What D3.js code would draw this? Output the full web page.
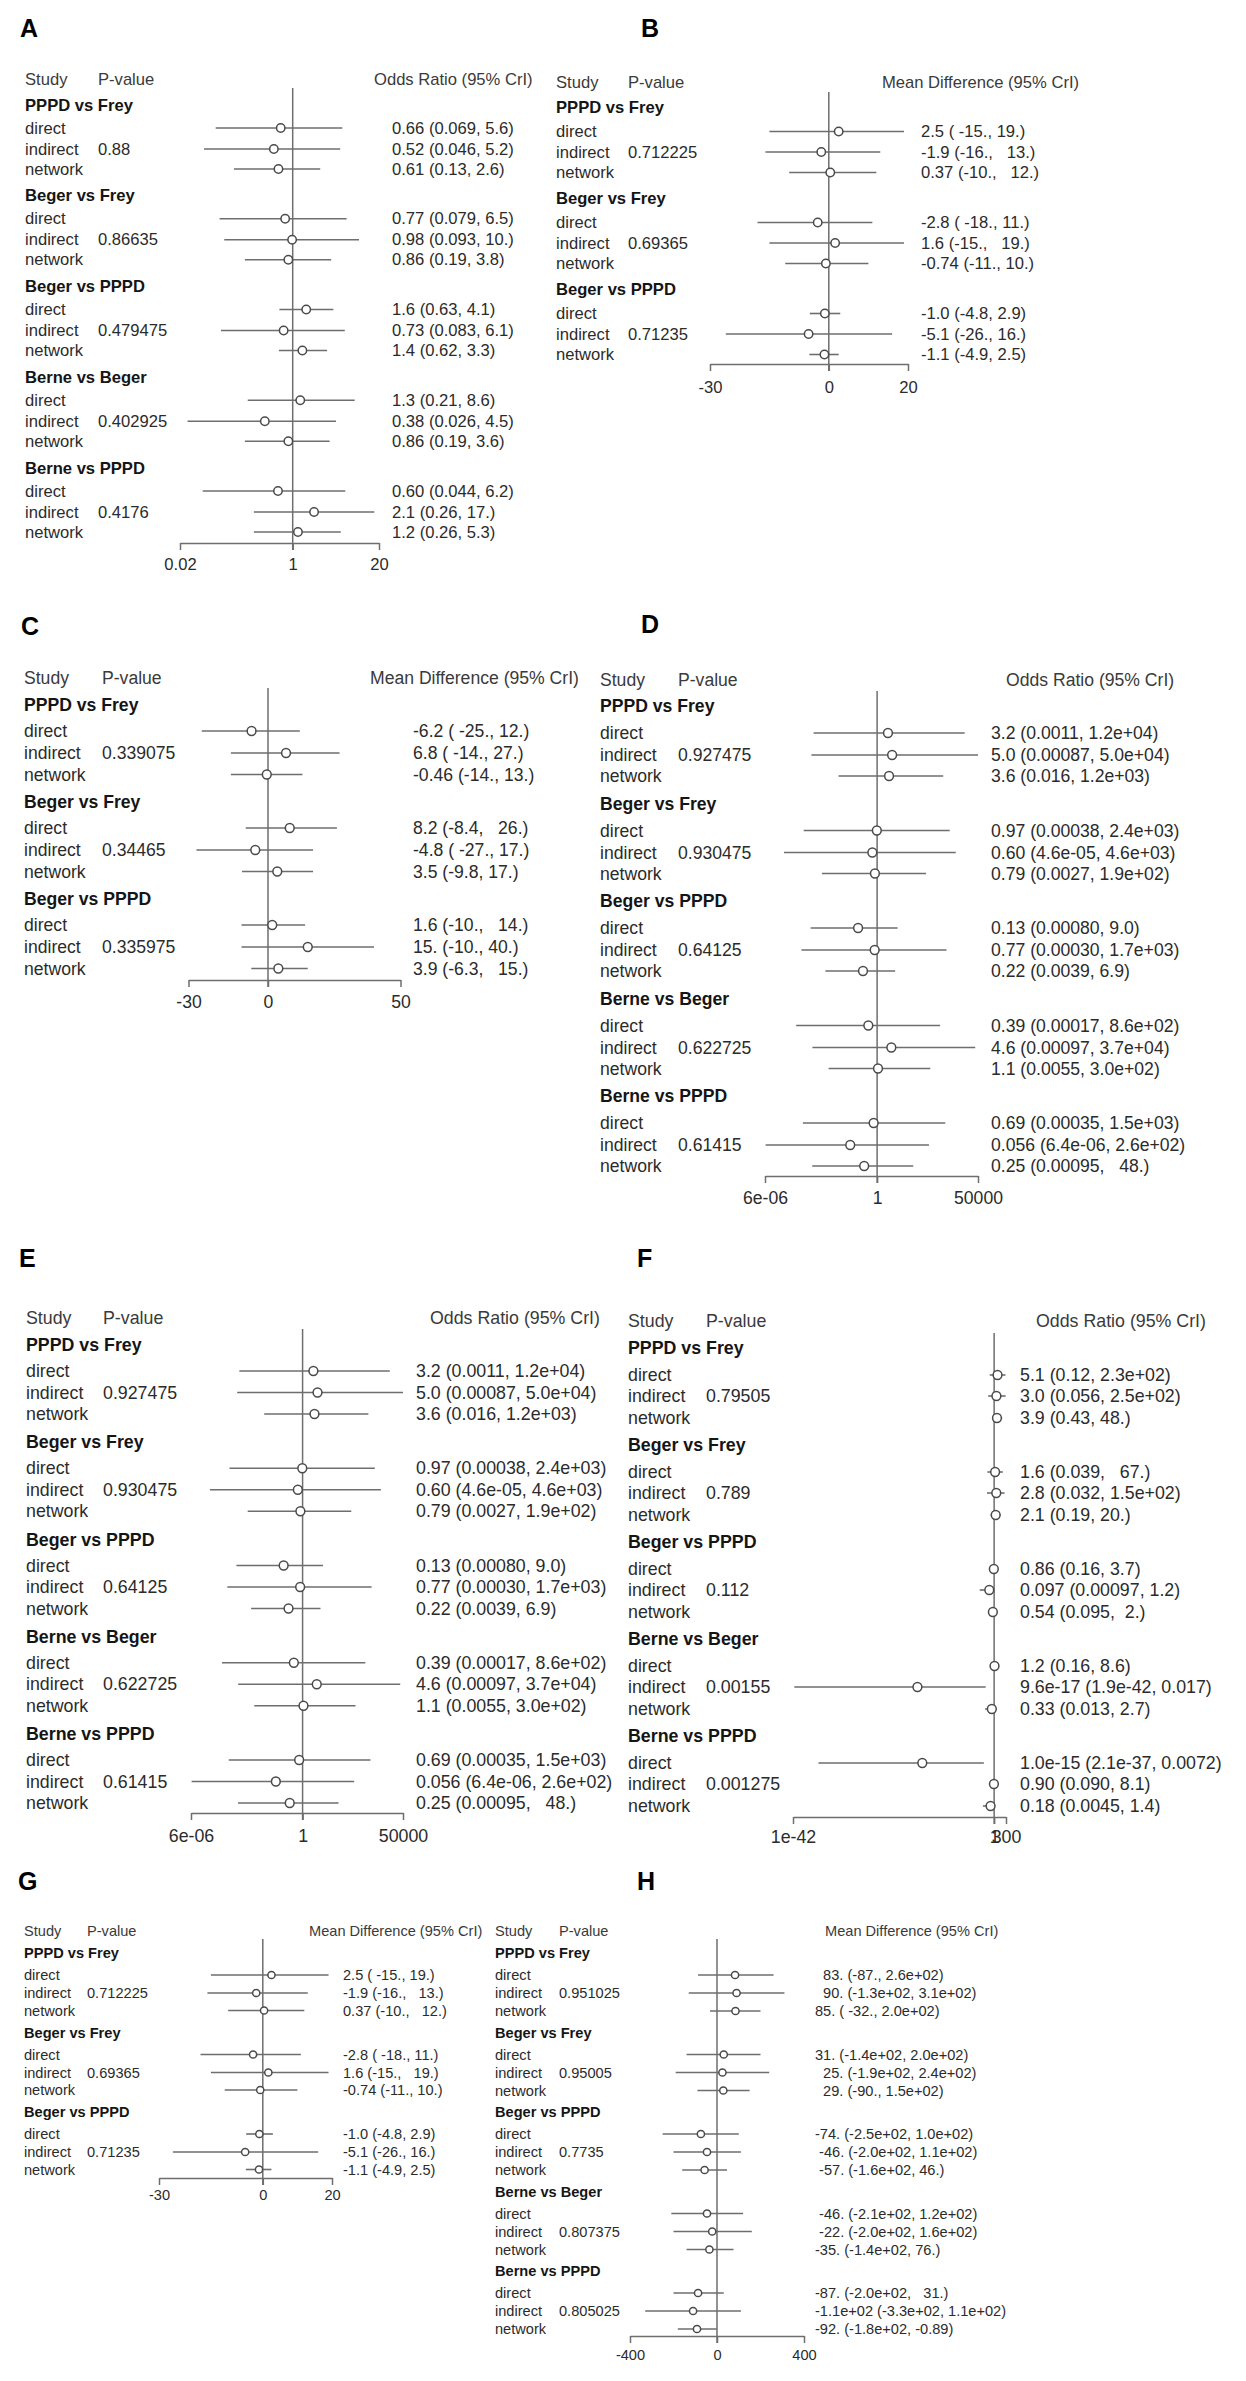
<!DOCTYPE html>
<html><head><meta charset="utf-8">
<script src="https://cdn.jsdelivr.net/npm/d3@7"></script>
<style>
html,body{margin:0;padding:0;background:#fff;}
svg text{font-family:"Liberation Sans",Arial,sans-serif;white-space:pre;}
</style></head><body>
<svg id="chart" width="1246" height="2381" xml:space="preserve"></svg>
<script>
// ---------- shared categories ----------
const groups5 = ["PPPD vs Frey", "Beger vs Frey", "Beger vs PPPD", "Berne vs Beger", "Berne vs PPPD"];
const groups3 = ["PPPD vs Frey", "Beger vs Frey", "Beger vs PPPD"];
const rowKinds = ["direct", "indirect", "network"];

// ---------- Panel A (Odds Ratio) ----------
const A_est = [0.66, 0.52, 0.61, 0.77, 0.98, 0.86, 1.6, 0.73, 1.4, 1.3, 0.38, 0.86, 0.60, 2.1, 1.2];
const A_lo  = [0.069, 0.046, 0.13, 0.079, 0.093, 0.19, 0.63, 0.083, 0.62, 0.21, 0.026, 0.19, 0.044, 0.26, 0.26];
const A_hi  = [5.6, 5.2, 2.6, 6.5, 10, 3.8, 4.1, 6.1, 3.3, 8.6, 4.5, 3.6, 6.2, 17, 5.3];
const A_txt = ["0.66 (0.069, 5.6)", "0.52 (0.046, 5.2)", "0.61 (0.13, 2.6)",
  "0.77 (0.079, 6.5)", "0.98 (0.093, 10.)", "0.86 (0.19, 3.8)",
  "1.6 (0.63, 4.1)", "0.73 (0.083, 6.1)", "1.4 (0.62, 3.3)",
  "1.3 (0.21, 8.6)", "0.38 (0.026, 4.5)", "0.86 (0.19, 3.6)",
  "0.60 (0.044, 6.2)", "2.1 (0.26, 17.)", "1.2 (0.26, 5.3)"];
const A_p = ["0.88", "0.86635", "0.479475", "0.402925", "0.4176"];
const A_ticks = [0.02, 1, 20];
const A_tickLabels = ["0.02", "1", "20"];

// ---------- Panel B (Mean Difference) ----------
const B_est = [2.5, -1.9, 0.37, -2.8, 1.6, -0.74, -1.0, -5.1, -1.1];
const B_lo  = [-15, -16, -10, -18, -15, -11, -4.8, -26, -4.9];
const B_hi  = [19, 13, 12, 11, 19, 10, 2.9, 16, 2.5];
const B_txt = ["2.5 ( -15., 19.)", "-1.9 (-16.,   13.)", "0.37 (-10.,   12.)",
  "-2.8 ( -18., 11.)", "1.6 (-15.,   19.)", "-0.74 (-11., 10.)",
  "-1.0 (-4.8, 2.9)", "-5.1 (-26., 16.)", "-1.1 (-4.9, 2.5)"];
const B_p = ["0.712225", "0.69365", "0.71235"];
const B_ticks = [-30, 0, 20];
const B_tickLabels = ["-30", "0", "20"];

// ---------- Panel C (Mean Difference) ----------
const C_est = [-6.2, 6.8, -0.46, 8.2, -4.8, 3.5, 1.6, 15, 3.9];
const C_lo  = [-25, -14, -14, -8.4, -27, -9.8, -10, -10, -6.3];
const C_hi  = [12, 27, 13, 26, 17, 17, 14, 40, 15];
const C_txt = ["-6.2 ( -25., 12.)", "6.8 ( -14., 27.)", "-0.46 (-14., 13.)",
  "8.2 (-8.4,   26.)", "-4.8 ( -27., 17.)", "3.5 (-9.8, 17.)",
  "1.6 (-10.,   14.)", "15. (-10., 40.)", "3.9 (-6.3,   15.)"];
const C_p = ["0.339075", "0.34465", "0.335975"];
const C_ticks = [-30, 0, 50];
const C_tickLabels = ["-30", "0", "50"];

// ---------- Panel D (Odds Ratio) ----------
const D_est = [3.2, 5.0, 3.6, 0.97, 0.60, 0.79, 0.13, 0.77, 0.22, 0.39, 4.6, 1.1, 0.69, 0.056, 0.25];
const D_lo  = [0.0011, 0.00087, 0.016, 0.00038, 4.6e-5, 0.0027, 0.0008, 0.0003, 0.0039, 0.00017, 0.00097, 0.0055, 0.00035, 6.4e-6, 0.00095];
const D_hi  = [1.2e4, 5.0e4, 1.2e3, 2.4e3, 4.6e3, 1.9e2, 9.0, 1.7e3, 6.9, 8.6e2, 3.7e4, 3.0e2, 1.5e3, 2.6e2, 48];
const D_txt = ["3.2 (0.0011, 1.2e+04)", "5.0 (0.00087, 5.0e+04)", "3.6 (0.016, 1.2e+03)",
  "0.97 (0.00038, 2.4e+03)", "0.60 (4.6e-05, 4.6e+03)", "0.79 (0.0027, 1.9e+02)",
  "0.13 (0.00080, 9.0)", "0.77 (0.00030, 1.7e+03)", "0.22 (0.0039, 6.9)",
  "0.39 (0.00017, 8.6e+02)", "4.6 (0.00097, 3.7e+04)", "1.1 (0.0055, 3.0e+02)",
  "0.69 (0.00035, 1.5e+03)", "0.056 (6.4e-06, 2.6e+02)", "0.25 (0.00095,   48.)"];
const D_p = ["0.927475", "0.930475", "0.64125", "0.622725", "0.61415"];
const D_ticks = [6e-6, 1, 50000];
const D_tickLabels = ["6e-06", "1", "50000"];

// ---------- Panel E (same estimates as D) ----------
const E_est = D_est.slice();
const E_lo = D_lo.slice();
const E_hi = D_hi.slice();
const E_txt = D_txt.slice();
const E_p = D_p.slice();
const E_ticks = [6e-6, 1, 50000];
const E_tickLabels = ["6e-06", "1", "50000"];

// ---------- Panel F (Odds Ratio) ----------
const F_est = [5.1, 3.0, 3.9, 1.6, 2.8, 2.1, 0.86, 0.097, 0.54, 1.2, 9.6e-17, 0.33, 1.0e-15, 0.90, 0.18];
const F_lo  = [0.12, 0.056, 0.43, 0.039, 0.032, 0.19, 0.16, 0.00097, 0.095, 0.16, 1.9e-42, 0.013, 2.1e-37, 0.090, 0.0045];
const F_hi  = [230, 250, 48, 67, 150, 20, 3.7, 1.2, 2, 8.6, 0.017, 2.7, 0.0072, 8.1, 1.4];
const F_txt = ["5.1 (0.12, 2.3e+02)", "3.0 (0.056, 2.5e+02)", "3.9 (0.43, 48.)",
  "1.6 (0.039,   67.)", "2.8 (0.032, 1.5e+02)", "2.1 (0.19, 20.)",
  "0.86 (0.16, 3.7)", "0.097 (0.00097, 1.2)", "0.54 (0.095,  2.)",
  "1.2 (0.16, 8.6)", "9.6e-17 (1.9e-42, 0.017)", "0.33 (0.013, 2.7)",
  "1.0e-15 (2.1e-37, 0.0072)", "0.90 (0.090, 8.1)", "0.18 (0.0045, 1.4)"];
const F_p = ["0.79505", "0.789", "0.112", "0.00155", "0.001275"];
const F_ticks = [1e-42, 1, 300];
const F_tickLabels = ["1e-42", "1", "300"];

// ---------- Panel G (same estimates as B) ----------
const G_est = B_est.slice();
const G_lo = B_lo.slice();
const G_hi = B_hi.slice();
const G_txt = B_txt.slice();
const G_p = B_p.slice();
const G_ticks = [-30, 0, 20];
const G_tickLabels = ["-30", "0", "20"];

// ---------- Panel H (Mean Difference) ----------
const H_est = [83, 90, 85, 31, 25, 29, -74, -46, -57, -46, -22, -35, -87, -110, -92];
const H_lo  = [-87, -130, -32, -140, -190, -90, -250, -200, -160, -210, -200, -140, -200, -330, -180];
const H_hi  = [260, 310, 200, 200, 240, 150, 100, 110, 46, 120, 160, 76, 31, 110, -0.89];
const H_txt = ["  83. (-87., 2.6e+02)", "  90. (-1.3e+02, 3.1e+02)", "85. ( -32., 2.0e+02)",
  "31. (-1.4e+02, 2.0e+02)", "  25. (-1.9e+02, 2.4e+02)", "  29. (-90., 1.5e+02)",
  "-74. (-2.5e+02, 1.0e+02)", " -46. (-2.0e+02, 1.1e+02)", " -57. (-1.6e+02, 46.)",
  " -46. (-2.1e+02, 1.2e+02)", " -22. (-2.0e+02, 1.6e+02)", "-35. (-1.4e+02, 76.)",
  "-87. (-2.0e+02,   31.)", "-1.1e+02 (-3.3e+02, 1.1e+02)", "-92. (-1.8e+02, -0.89)"];
const H_p = ["0.951025", "0.95005", "0.7735", "0.807375", "0.805025"];
const H_ticks = [-400, 0, 400];
const H_tickLabels = ["-400", "0", "400"];

// ---------- layout (positions / sizes only) ----------
const panels = [
  {letter:"A", log:true,  groups:groups5, est:A_est, lo:A_lo, hi:A_hi, txt:A_txt, p:A_p, ticks:A_ticks, tl:A_tickLabels, head:"Odds Ratio (95% CrI)",
   lx:20, ly:37, hy:79, gy0:105, pitch:90.75, off:[23,44,64], xs:25, xp:98, xh:374, xv:392, zt:88, ay:543, tly:564, range:[180,379], fs:16.6, r:4.2},
  {letter:"B", log:false, groups:groups3, est:B_est, lo:B_lo, hi:B_hi, txt:B_txt, p:B_p, ticks:B_ticks, tl:B_tickLabels, head:"Mean Difference (95% CrI)",
   lx:641, ly:37, hy:82, gy0:107, pitch:91, off:[24.5,45,65.5], xs:556, xp:628, xh:882, xv:921, zt:92, ay:364, tly:387, range:[710,908], fs:16.6, r:4.2},
  {letter:"C", log:false, groups:groups3, est:C_est, lo:C_lo, hi:C_hi, txt:C_txt, p:C_p, ticks:C_ticks, tl:C_tickLabels, head:"Mean Difference (95% CrI)",
   lx:21, ly:635, hy:678, gy0:705, pitch:97, off:[26,48,69.5], xs:24, xp:102, xh:370, xv:413, zt:688, ay:980, tly:1002, range:[188.5,400.5], fs:17.6, r:4.4},
  {letter:"D", log:true,  groups:groups5, est:D_est, lo:D_lo, hi:D_hi, txt:D_txt, p:D_p, ticks:D_ticks, tl:D_tickLabels, head:"Odds Ratio (95% CrI)",
   lx:641, ly:633, hy:680, gy0:706, pitch:97.5, off:[27,49,70], xs:600, xp:678, xh:1006, xv:991, zt:691, ay:1176, tly:1198, range:[765,978], fs:17.6, r:4.4},
  {letter:"E", log:true,  groups:groups5, est:E_est, lo:E_lo, hi:E_hi, txt:E_txt, p:E_p, ticks:E_ticks, tl:E_tickLabels, head:"Odds Ratio (95% CrI)",
   lx:19, ly:1267, hy:1318, gy0:1345, pitch:97.25, off:[26,47.5,69], xs:26, xp:103, xh:430, xv:416, zt:1329, ay:1813, tly:1836, range:[191,403], fs:17.8, r:4.4},
  {letter:"F", log:true,  groups:groups5, est:F_est, lo:F_lo, hi:F_hi, txt:F_txt, p:F_p, ticks:F_ticks, tl:F_tickLabels, head:"Odds Ratio (95% CrI)",
   lx:637, ly:1267, hy:1321, gy0:1348, pitch:97, off:[27,48,70], xs:628, xp:706, xh:1036, xv:1020, zt:1333, ay:1817, tly:1837, range:[793,1006], fs:17.8, r:4.4},
  {letter:"G", log:false, groups:groups3, est:G_est, lo:G_lo, hi:G_hi, txt:G_txt, p:G_p, ticks:G_ticks, tl:G_tickLabels, head:"Mean Difference (95% CrI)",
   lx:18, ly:1890, hy:1931, gy0:1953, pitch:79.5, off:[22,40,57.5], xs:24, xp:87, xh:309, xv:343, zt:1939, ay:2178, tly:2195, range:[159,332], fs:14.6, r:3.6},
  {letter:"H", log:false, groups:groups5, est:H_est, lo:H_lo, hi:H_hi, txt:H_txt, p:H_p, ticks:H_ticks, tl:H_tickLabels, head:"Mean Difference (95% CrI)",
   lx:637, ly:1890, hy:1931, gy0:1953, pitch:79.5, off:[22,40,58], xs:495, xp:559, xh:825, xv:815, zt:1939, ay:2336, tly:2355, range:[630,804], fs:14.6, r:3.6}
];

const svg = d3.select("#chart");
svg.append("rect").attr("width",1246).attr("height",2381).attr("fill","#fff");

const LINE = "#6e6e6e", PT = "#4a4a4a", TXT = "#2b2b2b", HEAD = "#3a3a3a", BOLD = "#151515";

function drawPanel(c) {
  const g = svg.append("g").attr("class","panel-"+c.letter);
  g.append("text").attr("x", c.lx).attr("y", c.ly).text(c.letter)
    .attr("font-size", 25).attr("font-weight","bold").attr("fill","#000");

  const x = (c.log ? d3.scaleLog() : d3.scaleLinear())
      .domain([c.ticks[0], c.ticks[c.ticks.length-1]]).range(c.range);
  const nG = c.groups.length;
  const y = d3.scaleLinear().domain([0, nG]).range([c.gy0, c.gy0 + nG*c.pitch]);

  // column headers
  const hdr = [{t:"Study", x:c.xs}, {t:"P-value", x:c.xp}, {t:c.head, x:c.xh}];
  g.selectAll("text.hdr").data(hdr).join("text").attr("class","hdr")
    .attr("x", d=>d.x).attr("y", c.hy).attr("dominant-baseline","central")
    .attr("font-size", c.fs).attr("fill", HEAD).text(d=>d.t);

  // build rows
  const heads = [], rows = [];
  c.groups.forEach((name, gi) => {
    heads.push({name, y: y(gi)});
    rowKinds.forEach((k, ki) => {
      const i = gi*3 + ki;
      rows.push({kind:k, y: y(gi + c.off[ki]/c.pitch), est:c.est[i], lo:c.lo[i], hi:c.hi[i], txt:c.txt[i], p: ki===1 ? c.p[gi] : ""});
    });
  });

  // reference line
  const ref = c.log ? 1 : 0;
  g.append("line").attr("x1", x(ref)).attr("x2", x(ref)).attr("y1", c.zt).attr("y2", c.ay + 7)
    .attr("stroke", LINE).attr("stroke-width", 1.5);

  // group headers
  g.selectAll("text.grp").data(heads).join("text").attr("class","grp")
    .attr("x", c.xs).attr("y", d=>d.y).attr("dominant-baseline","central")
    .attr("font-size", c.fs).attr("font-weight","bold").attr("fill", BOLD).text(d=>d.name);

  // row labels, p-values, estimates text
  g.selectAll("text.lab").data(rows).join("text").attr("class","lab")
    .attr("x", c.xs).attr("y", d=>d.y).attr("dominant-baseline","central")
    .attr("font-size", c.fs).attr("fill", TXT).text(d=>d.kind);
  g.selectAll("text.pv").data(rows.filter(d=>d.p)).join("text").attr("class","pv")
    .attr("x", c.xp).attr("y", d=>d.y).attr("dominant-baseline","central")
    .attr("font-size", c.fs).attr("fill", TXT).text(d=>d.p);
  g.selectAll("text.val").data(rows).join("text").attr("class","val")
    .attr("x", c.xv).attr("y", d=>d.y).attr("dominant-baseline","central")
    .attr("font-size", c.fs).attr("fill", TXT).text(d=>d.txt);

  // CI lines and points
  g.selectAll("line.ci").data(rows).join("line").attr("class","ci")
    .attr("x1", d=>x(d.lo)).attr("x2", d=>x(d.hi)).attr("y1", d=>d.y).attr("y2", d=>d.y)
    .attr("stroke", LINE).attr("stroke-width", 1.6);
  g.selectAll("circle.pt").data(rows).join("circle").attr("class","pt")
    .attr("cx", d=>x(d.est)).attr("cy", d=>d.y).attr("r", c.r)
    .attr("fill","#fff").attr("stroke", PT).attr("stroke-width", 1.5);

  // axis
  const axis = d3.axisBottom(x).tickValues(c.ticks).tickFormat((d,i)=>c.tl[i])
    .tickSizeInner(7).tickSizeOuter(0);
  const ax = g.append("g").attr("transform", `translate(0,${c.ay})`).call(axis);
  ax.select(".domain").attr("stroke", LINE).attr("stroke-width", 1.5);
  ax.selectAll(".tick line").attr("stroke", LINE).attr("stroke-width", 1.5);
  ax.selectAll(".tick text").attr("y", c.tly - c.ay).attr("dy", "0.35em")
    .attr("font-size", c.fs).attr("fill", TXT)
    .attr("font-family", '"Liberation Sans", Arial, sans-serif');
}

panels.forEach(drawPanel);
</script></body></html>
